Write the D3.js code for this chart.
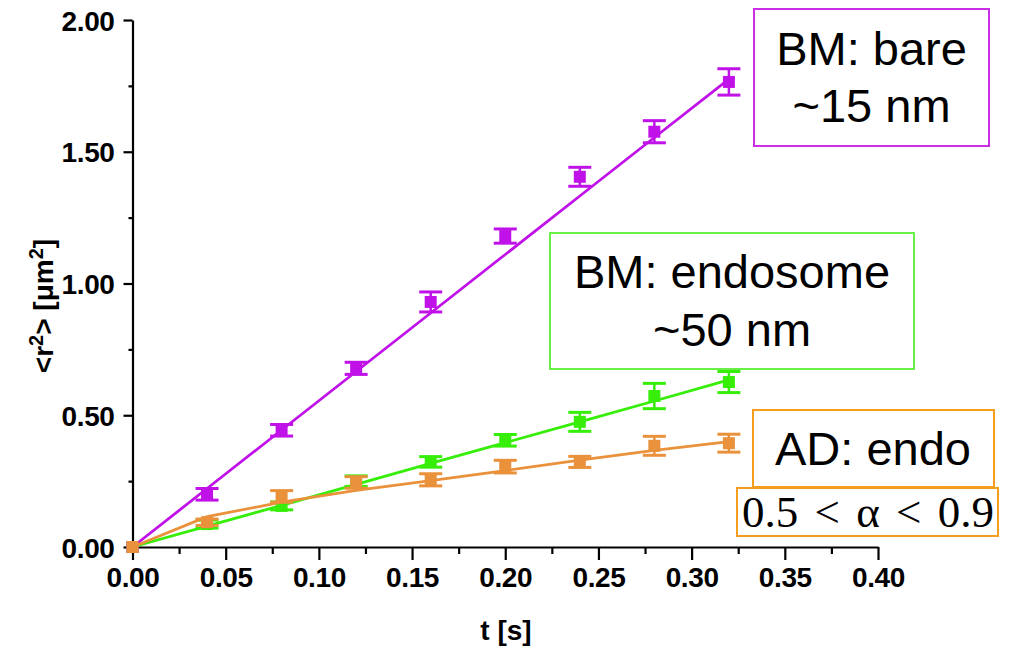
<!DOCTYPE html>
<html>
<head>
<meta charset="utf-8">
<script src="https://cdn.jsdelivr.net/npm/d3@7"></script>
<style>
  html, body { margin: 0; padding: 0; background: #fff; }
  svg { display: block; }
</style>
</head>
<body>
<svg id="chart" width="1009" height="648"></svg>
<script>
// Time lags (s)
const times = [0, 0.04, 0.08, 0.12, 0.16, 0.20, 0.24, 0.28, 0.32];

// Mean squared displacement <r²> (µm²) with error bars, and fitted curves
const bareMsd = [0, 0.20, 0.443, 0.678, 0.93, 1.18, 1.405, 1.576, 1.765];
const bareErr = [0, 0.022, 0.022, 0.023, 0.038, 0.027, 0.036, 0.042, 0.05];
const bareFit = [0, 0.222, 0.444, 0.666, 0.888, 1.11, 1.332, 1.554, 1.776];

const endoMsd = [0, 0.087, 0.156, 0.25, 0.323, 0.405, 0.475, 0.573, 0.626];
const endoErr = [0, 0.015, 0.015, 0.02, 0.02, 0.022, 0.036, 0.048, 0.04];
const endoFit = [0, 0.079, 0.158, 0.238, 0.317, 0.396, 0.475, 0.554, 0.634];

const adMsd = [0, 0.094, 0.192, 0.245, 0.255, 0.305, 0.323, 0.384, 0.394];
const adErr = [0, 0.012, 0.022, 0.022, 0.023, 0.024, 0.021, 0.036, 0.034];
const adFit = [0, 0.115, 0.17, 0.215, 0.252, 0.29, 0.33, 0.367, 0.40];

const xMajorTicks = [0, 0.05, 0.10, 0.15, 0.20, 0.25, 0.30, 0.35, 0.40];
const xMinorTicks = [0.025, 0.075, 0.125, 0.175, 0.225, 0.275, 0.325, 0.375];
const yMajorTicks = [0, 0.5, 1.0, 1.5, 2.0];
const yMinorTicks = [0.25, 0.75, 1.25, 1.75];

// Drawing order: green, then purple, then orange on top
const series = [
  { name: "BM: endosome", msd: endoMsd, err: endoErr, fit: endoFit, mark: "#36ee08", line: "#36ee08" },
  { name: "BM: bare", msd: bareMsd, err: bareErr, fit: bareFit, mark: "#c012e8", line: "#c012e8" },
  { name: "AD: endo", msd: adMsd, err: adErr, fit: adFit, mark: "#ea913c", line: "#ea913c" }
];

const svg = d3.select("#chart");
const x = d3.scaleLinear().domain([0, 0.4]).range([132.5, 878]);
const y = d3.scaleLinear().domain([0, 2]).range([547, 20]);

const axisFont = "'Liberation Sans', Arial, Helvetica, sans-serif";

// Axes: minor ticks first, then major ticks with labels
const gx = svg.append("g").attr("transform", `translate(0,${y(0)})`);
gx.call(d3.axisBottom(x).tickValues(xMinorTicks).tickSize(7).tickFormat(""))
  .call(g => g.select(".domain").remove());
gx.append("g").call(d3.axisBottom(x).tickValues(xMajorTicks).tickSize(13).tickSizeOuter(0)
    .tickPadding(7).tickFormat(d3.format(".2f")));

const gy = svg.append("g").attr("transform", `translate(${x(0)},0)`);
gy.call(d3.axisLeft(y).tickValues(yMinorTicks).tickSize(4).tickFormat(""))
  .call(g => g.select(".domain").remove());
gy.append("g").call(d3.axisLeft(y).tickValues(yMajorTicks).tickSize(9).tickSizeOuter(0)
    .tickPadding(9).tickFormat(d3.format(".2f")));

svg.selectAll(".domain").attr("stroke", "#000").attr("stroke-width", 2.2);
svg.selectAll(".tick line").attr("stroke", "#000").attr("stroke-width", 2.2);
svg.selectAll(".tick text")
  .attr("fill", "#000")
  .style("font-family", axisFont)
  .style("font-weight", "bold")
  .style("font-size", "28px")
  .style("letter-spacing", "-0.4px");
gy.selectAll(".tick text").attr("dy", "0.36em");

// Axis titles
svg.append("text")
  .attr("x", 506).attr("y", 640)
  .attr("text-anchor", "middle")
  .style("font-family", axisFont).style("font-weight", "bold").style("font-size", "28px")
  .text("t [s]");

const yTitle = svg.append("text")
  .attr("transform", "translate(53,306) rotate(-90)")
  .attr("text-anchor", "middle")
  .style("font-family", axisFont).style("font-weight", "bold").style("font-size", "28px");
yTitle.append("tspan").text("<r");
yTitle.append("tspan").attr("dy", -10).style("font-size", "20px").text("2");
yTitle.append("tspan").attr("dy", 10).text("> [\u03bcm");
yTitle.append("tspan").attr("dy", -10).style("font-size", "20px").text("2");
yTitle.append("tspan").attr("dy", 10).text("]");

// Fits, error bars and markers
const line = d3.line().x((d, i) => x(times[i])).y(d => y(d));

series.forEach(s => {
  const g = svg.append("g");
  g.append("path")
    .datum(s.fit)
    .attr("d", line)
    .attr("fill", "none")
    .attr("stroke", s.line)
    .attr("stroke-width", 2.8);

  const pts = times.map((t, i) => ({ t, v: s.msd[i], e: s.err[i] }));
  const eb = g.selectAll(".eb").data(pts.filter(d => d.e > 0)).enter().append("g");
  eb.append("line")
    .attr("x1", d => x(d.t)).attr("x2", d => x(d.t))
    .attr("y1", d => y(d.v + d.e)).attr("y2", d => y(d.v - d.e))
    .attr("stroke", s.mark).attr("stroke-width", 2.5);
  [1, -1].forEach(sign => {
    eb.append("line")
      .attr("x1", d => x(d.t) - 11.5).attr("x2", d => x(d.t) + 11.5)
      .attr("y1", d => y(d.v + sign * d.e)).attr("y2", d => y(d.v + sign * d.e))
      .attr("stroke", s.mark).attr("stroke-width", 3);
  });
  g.selectAll(".pt").data(pts).enter().append("rect")
    .attr("x", d => x(d.t) - 6).attr("y", d => y(d.v) - 6)
    .attr("width", 12).attr("height", 12)
    .attr("fill", s.mark);
});

// Labels in boxes
const labelFont = "'Liberation Sans', Arial, Helvetica, sans-serif";
function labelBox(x0, y0, w, h, color) {
  svg.append("rect").attr("x", x0).attr("y", y0).attr("width", w).attr("height", h)
    .attr("fill", "#fff").attr("stroke", color).attr("stroke-width", 2);
}
function labelText(cx, by, str, size, family, wordSpacing) {
  svg.append("text").attr("x", cx).attr("y", by).attr("text-anchor", "middle")
    .style("font-family", family || labelFont).style("font-size", size + "px")
    .style("word-spacing", (wordSpacing || 0) + "px")
    .attr("fill", "#000").text(str);
}

labelBox(754, 9, 235, 137, "#cc2ee8");
labelText(871.5, 65, "BM: bare", 47);
labelText(871.5, 122, "~15 nm", 47);

labelBox(550, 233, 364, 136, "#6aee48");
labelText(732, 288, "BM: endosome", 47);
labelText(732, 346, "~50 nm", 47);

labelBox(753, 410, 241, 77, "#f59e1e");
labelText(873, 465, "AD: endo", 47);

labelBox(737, 488, 261, 48, "#f59e1e");
labelText(868, 527, "0.5 < \u03b1 < 0.9", 45, "'Liberation Serif', 'Times New Roman', serif", 5);
</script>
</body>
</html>
